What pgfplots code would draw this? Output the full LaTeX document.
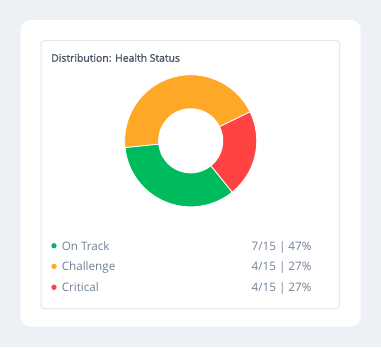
\documentclass[border=0pt]{standalone}
\usepackage{pgfplots}
\pgfplotsset{compat=1.18}
\usepackage{fontspec}
\setmainfont{Open Sans}
\newfontfamily\semib{Open Sans}[FakeBold=1.6]
\definecolor{bgc}{HTML}{EDF1F5}
\definecolor{boxc}{HTML}{E4E8EE}
\definecolor{titlec}{HTML}{4A5568}
\definecolor{textc}{HTML}{718096}
\definecolor{cgreen}{HTML}{00BA5E}
\definecolor{corange}{HTML}{FFA726}
\definecolor{cred}{HTML}{FF4343}
\begin{document}
\begin{tikzpicture}
\begin{axis}[
  width=285.75pt, height=260.25pt, scale only axis,
  xmin=0, xmax=381, ymin=0, ymax=347, y dir=reverse,
  hide axis, clip=false,
  at={(0,0)}, anchor=north west]
% background and cards
\fill[bgc] (axis cs:0,0) rectangle (axis cs:381,347);
\fill[white, rounded corners=7.5pt] (axis cs:20.5,20) rectangle (axis cs:360.7,326.5);
\draw[boxc, fill=white, rounded corners=2.5pt, line width=0.75pt] (axis cs:41,40.7) rectangle (axis cs:339.7,308.5);
% title
\node[anchor=base west, inner sep=0pt, font=\fontsize{7.8}{10}\semib, text=titlec] at (axis cs:51,61.7) {Distribution: Health Status};
% donut slices (angle spans, degrees): Challenge 160, On Track 123, Critical 77
\addplot[fill=corange, draw=white, line width=0.6pt, domain=26:186, samples=80]
  ({190.7+66*cos(x)}, {140.8-66*sin(x)}) -- (axis cs:190.7,140.8) -- cycle;
\addplot[fill=cgreen, draw=white, line width=0.6pt, domain=186:309, samples=70]
  ({190.7+66*cos(x)}, {140.8-66*sin(x)}) -- (axis cs:190.7,140.8) -- cycle;
\addplot[fill=cred, draw=white, line width=0.6pt, domain=309:386, samples=50]
  ({190.7+66*cos(x)}, {140.8-66*sin(x)}) -- (axis cs:190.7,140.8) -- cycle;
% hole
\addplot[fill=white, draw=none, domain=0:360, samples=120]
  ({190.7+32.5*cos(x)}, {140.8-32.5*sin(x)}) -- cycle;
% legend
\fill[cgreen] (axis cs:54,245.7) circle[radius=2pt];
\fill[corange] (axis cs:54,266.4) circle[radius=2pt];
\fill[cred] (axis cs:54,287.3) circle[radius=2pt];
\begin{scope}[every node/.style={inner sep=0pt, font=\fontsize{8.75}{11}\selectfont, text=textc}]
\node[anchor=base west] at (axis cs:61.5,250.2) {On Track};
\node[anchor=base west] at (axis cs:61.5,270.9) {Challenge};
\node[anchor=base west] at (axis cs:61.5,291.8) {Critical};
\node[anchor=base east] at (axis cs:311.7,250.2) {7/15 | 47\%};
\node[anchor=base east] at (axis cs:311.7,270.9) {4/15 | 27\%};
\node[anchor=base east] at (axis cs:311.7,291.8) {4/15 | 27\%};
\end{scope}
\end{axis}
\end{tikzpicture}
\end{document}
